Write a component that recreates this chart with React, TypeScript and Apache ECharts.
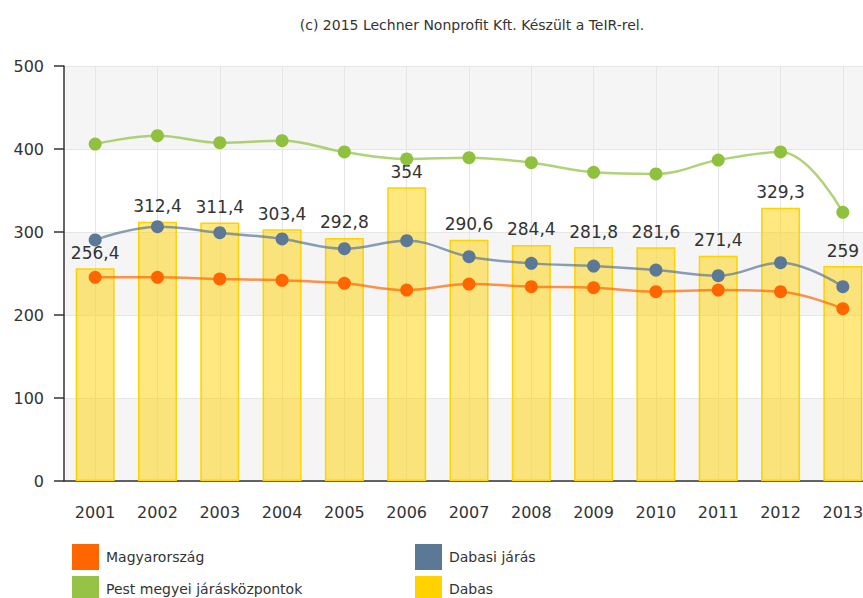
import React, { useEffect, useRef } from "react";
import * as echarts from "echarts";

const years = ["2001", "2002", "2003", "2004", "2005", "2006", "2007", "2008", "2009", "2010", "2011", "2012", "2013"];
const dabas = [256.4, 312.4, 311.4, 303.4, 292.8, 354, 290.6, 284.4, 281.8, 281.6, 271.4, 329.3, 259];
const magyarorszag = [245.4, 245.4, 243.4, 241.8, 238.2, 230.1, 237.3, 234.1, 232.9, 228.1, 230.1, 228.1, 207.6];
const dabasiJaras = [290.4, 306.4, 299.2, 291.6, 279.9, 289.5, 270.3, 262.2, 259, 254.2, 247.4, 263, 234.1];
const pestMegyei = [406, 416, 407.6, 410, 396.4, 388, 389.6, 383.5, 371.9, 369.9, 386.7, 396.4, 323.7];
const yTicks = [0, 100, 200, 300, 400, 500];
const titleText = "(c) 2015 Lechner Nonprofit Kft. Készült a TeIR-rel.";

const FONT = "DejaVu Sans";
const TXT = "#333333";

export default function App() {
  const ref = useRef<HTMLDivElement>(null);
  useEffect(() => {
    document.body.style.margin = "0";
    const chart = echarts.init(ref.current!, null, { renderer: "svg" });
    const lineSeries = (name: string, data: number[], color: string, z: number) => ({
      name,
      type: "line",
      data,
      smooth: 0.4,
      symbol: "circle",
      symbolSize: 13,
      z,
      itemStyle: { color },
      lineStyle: { color, width: 2.5, opacity: 0.7 },
    });
    const legendItem = (name: string, left: number, top: number, color: string) => ({
      data: [name],
      left,
      top,
      padding: 0,
      icon: "rect",
      itemWidth: 27,
      itemHeight: 26,
      itemGap: 8,
      itemStyle: { color, borderWidth: 0, opacity: 1 },
      textStyle: { fontFamily: FONT, fontSize: 14, color: TXT, padding: [0, 0, 0, 2] },
    });
    chart.setOption({
      animation: false,
      title: {
        text: titleText,
        left: 467,
        top: 13,
        textAlign: "center",
        textStyle: { fontFamily: FONT, fontSize: 14, fontWeight: "normal", color: TXT },
      },
      legend: [
        legendItem("Magyarország", 72, 544, "#ff6600"),
        legendItem("Dabasi járás", 415, 544, "#5b7896"),
        legendItem("Pest megyei járásközpontok", 72, 576, "#96c346"),
        legendItem("Dabas", 415, 576, "#ffd200"),
      ],
      grid: { left: 64, top: 66, width: 810, height: 415, containLabel: false, outerBoundsMode: "none" },
      xAxis: {
        type: "category",
        data: years,
        boundaryGap: true,
        axisLine: { lineStyle: { color: "#333", width: 1.5 } },
        axisTick: { alignWithLabel: true, length: 8, lineStyle: { color: "#333", width: 1.5 } },
        axisLabel: { fontFamily: FONT, fontSize: 16, color: TXT, margin: 23, interval: 0 },
        splitLine: { show: true, alignWithLabel: true, lineStyle: { color: "#e6e6e6" } },
      },
      yAxis: {
        type: "value",
        min: yTicks[0],
        max: yTicks[yTicks.length - 1],
        interval: 100,
        axisLine: { show: true, lineStyle: { color: "#333", width: 1.5 } },
        axisTick: { show: true, length: 10, lineStyle: { color: "#333", width: 1.5 } },
        axisLabel: { fontFamily: FONT, fontSize: 16, color: TXT, margin: 20 },
        splitLine: { show: true, lineStyle: { color: "#e6e6e6" } },
        splitArea: { show: true, areaStyle: { color: ["#f5f5f5", "#ffffff"] } },
      },
      series: [
        {
          name: "Dabas",
          type: "bar",
          data: dabas,
          barWidth: 39,
          z: 1,
          itemStyle: { color: "rgba(255, 210, 0, 0.5)", borderColor: "#ffd200", borderWidth: 1.5 },
          label: {
            show: true,
            position: "top",
            distance: 7,
            fontFamily: FONT,
            fontSize: 17,
            color: TXT,
            formatter: (p: any) => String(p.value).replace(".", ","),
          },
        },
        lineSeries("Magyarország", magyarorszag, "#ff6600", 3),
        lineSeries("Dabasi járás", dabasiJaras, "#5b7896", 3),
        lineSeries("Pest megyei járásközpontok", pestMegyei, "#8fc13e", 3),
      ],
    });
    return () => chart.dispose();
  }, []);
  return <div ref={ref} style={{ width: 863, height: 598 }} />;
}
